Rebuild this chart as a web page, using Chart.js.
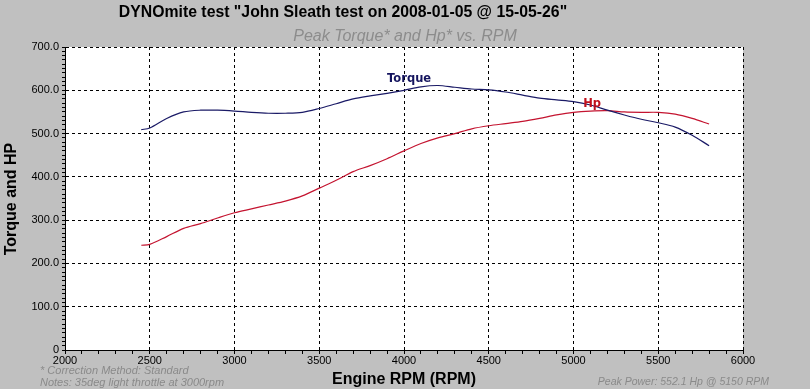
<!DOCTYPE html>
<html>
<head>
<meta charset="utf-8">
<script src="https://cdn.jsdelivr.net/npm/chart.js@4/dist/chart.umd.min.js"></script>
<style>
  html, body { margin: 0; padding: 0; background: #c0c0c0; }
  #wrap { width: 810px; height: 389px; position: relative; }
</style>
</head>
<body>
<div id="wrap"><canvas id="dyno"></canvas></div>
<script>
const rpm = [2450, 2500, 2600, 2700, 2800, 2900, 3000, 3100, 3200, 3300, 3400, 3500, 3600, 3700, 3800, 3900,
    4000, 4100, 4200, 4300, 4400, 4500, 4600, 4700, 4800, 4900, 5000, 5100, 5200, 5300, 5400, 5500, 5600, 5700, 5800];
const torque = [509, 513, 535, 550, 554, 554, 552, 549, 547, 547, 549, 558, 569, 580, 587, 593,
    600, 608, 611, 607, 603, 601, 596, 589, 582, 578, 574, 566, 554, 543, 533, 525, 515, 496, 472];
const hp = [242, 244, 262, 281, 292, 305, 317, 326, 335, 344, 356, 374, 392, 412, 426, 442,
    460, 477, 490, 500, 511, 518, 523, 528, 535, 543, 549, 552, 553, 550, 549, 549, 545, 535, 522];

const chartTitle = 'DYNOmite test "John Sleath test on 2008-01-05 @ 15-05-26"';
const chartSubtitle = 'Peak Torque* and Hp* vs. RPM';
const xTitle = 'Engine RPM (RPM)';
const yTitle = 'Torque and HP';
const footLeft = ['* Correction Method: Standard', 'Notes: 35deg light throttle at 3000rpm'];
const footRight = 'Peak Power: 552.1 Hp @ 5150 RPM';

// series name labels, anchored in data units
const seriesLabels = [
    { text: 'Torque', x: 4030, y: 619, color: '#14145e' },
    { text: 'Hp', x: 5110, y: 561, color: '#c0101c' }
];

const torqueColor = '#1a1a66';
const hpColor = '#c41430';

const decor = {
    id: 'decor',
    beforeDraw(chart) {
        const c = chart.ctx, a = chart.chartArea;
        c.save();
        c.fillStyle = '#ffffff';
        c.fillRect(a.left, a.top, a.right - a.left, a.bottom - a.top);
        c.restore();
    },
    afterDraw(chart) {
        const c = chart.ctx;
        const xs = chart.scales.x, ys = chart.scales.y;
        c.save();
        c.textAlign = 'center';
        c.textBaseline = 'middle';

        c.fillStyle = '#000';
        c.font = 'bold 15.8px "Liberation Sans", Arial, sans-serif';
        c.fillText(chartTitle, 343, 13);

        c.fillStyle = '#8c8c8c';
        c.font = 'italic 16px "Liberation Sans", Arial, sans-serif';
        c.fillText(chartSubtitle, 405, 37);

        c.fillStyle = '#000';
        c.font = 'bold 16px "Liberation Sans", Arial, sans-serif';
        c.fillText(xTitle, 404, 380);

        c.save();
        c.translate(12, 199);
        c.rotate(-Math.PI / 2);
        c.fillText(yTitle, 0, 0);
        c.restore();

        c.fillStyle = '#8a8a8a';
        c.font = 'italic 11px "Liberation Sans", Arial, sans-serif';
        c.textAlign = 'left';
        c.fillText(footLeft[0], 40, 371);
        c.fillText(footLeft[1], 40, 383);
        c.font = 'italic 10.5px "Liberation Sans", Arial, sans-serif';
        c.textAlign = 'right';
        c.fillText(footRight, 769, 382);

        c.textAlign = 'center';
        c.textBaseline = 'alphabetic';
        c.font = 'bold 11.5px "DejaVu Sans", Verdana, sans-serif';
        seriesLabels.forEach(l => {
            c.fillStyle = l.color;
            c.fillText(l.text, xs.getPixelForValue(l.x), ys.getPixelForValue(l.y));
        });
        c.restore();
    }
};

new Chart(document.getElementById('dyno'), {
    type: 'line',
    data: {
        datasets: [
            {
                label: 'Torque',
                data: rpm.map((r, i) => ({ x: r, y: torque[i] })),
                borderColor: torqueColor,
                borderWidth: 1.2,
                pointRadius: 0,
                tension: 0.3,
                fill: false
            },
            {
                label: 'Hp',
                data: rpm.map((r, i) => ({ x: r, y: hp[i] })),
                borderColor: hpColor,
                borderWidth: 1.2,
                pointRadius: 0,
                tension: 0.3,
                fill: false
            }
        ]
    },
    options: {
        responsive: true,
        maintainAspectRatio: false,
        animation: false,
        events: [],
        layout: { padding: { top: 47, right: 67, left: 0, bottom: 0 } },
        plugins: { legend: { display: false }, tooltip: { enabled: false } },
        scales: {
            x: {
                type: 'linear',
                min: 2000,
                max: 6000,
                afterFit(scale) { scale.height = 39; },
                afterBuildTicks(scale) {
                    const t = [];
                    for (let v = 2000; v <= 6000; v += 100) t.push({ value: v });
                    scale.ticks = t;
                },
                ticks: {
                    autoSkip: false,
                    maxRotation: 0,
                    padding: 0,
                    color: '#000',
                    font: { family: '"Liberation Sans", Arial, sans-serif', size: 11 },
                    callback: v => (v % 500 === 0 ? String(v) : '')
                },
                grid: {
                    color: ctx => (ctx.tick && ctx.tick.value % 500 === 0 ? '#000' : 'rgba(0,0,0,0)'),
                    tickColor: '#000',
                    tickLength: 4,
                    lineWidth: 1
                },
                border: { display: true, color: '#000', width: 1, dash: [3, 3] }
            },
            y: {
                min: 0,
                max: 700,
                afterFit(scale) { scale.width = 65; },
                afterBuildTicks(scale) {
                    const t = [];
                    for (let v = 0; v <= 700; v += 10) t.push({ value: v });
                    scale.ticks = t;
                },
                ticks: {
                    autoSkip: false,
                    padding: 3,
                    color: '#000',
                    font: { family: '"Liberation Sans", Arial, sans-serif', size: 11 },
                    callback: v => (v % 100 !== 0 ? '' : (v === 0 ? '0' : v.toFixed(1)))
                },
                grid: {
                    color: ctx => (ctx.tick && ctx.tick.value % 100 === 0 ? '#000' : 'rgba(0,0,0,0)'),
                    tickColor: '#000',
                    tickLength: 3,
                    lineWidth: 1
                },
                border: { display: true, color: '#000', width: 1, dash: [3, 3] }
            }
        }
    },
    plugins: [decor]
});
</script>
</body>
</html>
